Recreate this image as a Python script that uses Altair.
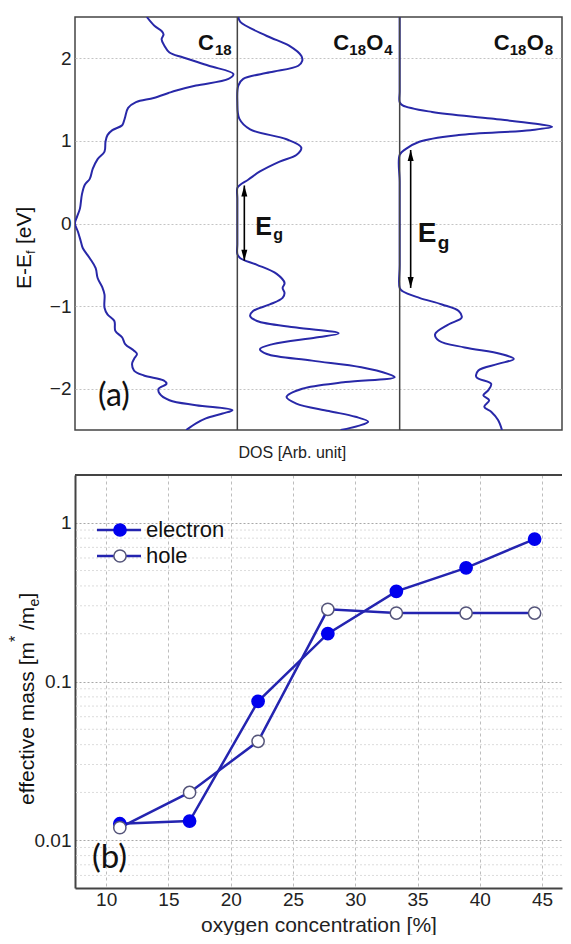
import altair as alt
import pandas as pd

FONT = "Liberation Sans"
TAG_FONT = "Lato"

# ---------------- panel (a): density of states ----------------
# E - E_f [eV] and DOS [arb. unit]
c18_E = [2.50, 2.39, 2.33, 2.29, 2.23, 2.15, 2.07, 2.01, 1.91, 1.81, 1.75, 1.67, 1.61, 1.58,
         1.52, 1.47, 1.40, 1.29, 1.25, 1.19, 1.13, 1.07, 0.99, 0.87, 0.78, 0.66, 0.54, 0.47,
         0.35, 0.18, 0.08, 0.00, -0.10, -0.22, -0.30, -0.42, -0.54, -0.66, -0.78, -0.86,
         -1.02, -1.10, -1.18, -1.30, -1.38, -1.46, -1.54, -1.58, -1.64, -1.70, -1.78, -1.84,
         -1.90, -1.94, -2.00, -2.06, -2.14, -2.20, -2.26, -2.30, -2.36, -2.42, -2.50]
c18_dos = [73, 81, 88, 90, 88, 91, 96, 110, 136, 161, 156, 123, 103, 95,
           80, 62, 54, 51, 50, 48, 38, 33, 31, 30, 23, 18, 15, 10,
           7, 5, 2, 0, 3, 6, 8, 15, 21, 23, 28, 30,
           30, 33, 40, 41, 48, 51, 60, 63, 60, 58, 60, 70,
           90, 93, 85, 86, 96, 123, 160, 150, 133, 123, 113]

c18o4_E = [2.50, 2.44, 2.27, 2.15, 2.03, 1.97, 1.91, 1.83, 1.75, 1.67, 1.47, 1.27, 1.14, 1.02,
           0.92, 0.83, 0.75, 0.63, 0.53, 0.47, 0.43, 0.30, 0.00, -0.25, -0.37, -0.42, -0.50,
           -0.61, -0.72, -0.78, -0.84, -0.90, -0.98, -1.06, -1.12, -1.18, -1.26, -1.33, -1.38,
           -1.46, -1.52, -1.58, -1.66, -1.74, -1.82, -1.86, -1.92, -2.00, -2.10, -2.18, -2.27,
           -2.34, -2.40, -2.45, -2.50]
c18o4_dos = [1, 3, 30, 53, 65, 66, 62, 33, 6, 1, 0, 2, 13, 50,
             65, 60, 43, 23, 11, 3, 0, 0, 0, 0, 0, 3, 20,
             40, 48, 46, 48, 46, 33, 16, 13, 20, 60, 103, 80,
             36, 23, 30, 76, 126, 153, 160, 110, 66, 50, 60, 93,
             120, 133, 123, 105]

c18o8_E = [2.50, 2.00, 1.60, 1.47, 1.43, 1.35, 1.27, 1.21, 1.17, 1.13, 1.07, 0.99, 0.90, 0.83,
           0.50, 0.00, -0.50, -0.78, -0.82, -0.90, -0.98, -1.06, -1.14, -1.22, -1.34, -1.42,
           -1.50, -1.58, -1.64, -1.70, -1.78, -1.86, -1.94, -2.02, -2.08, -2.14, -2.22, -2.28,
           -2.38, -2.50]
c18o8_dos = [0, 0, 0, 0, 3, 33, 93, 136, 155, 133, 60, 20, 6, 0,
             0, 0, 0, 0, 3, 20, 43, 60, 63, 50, 36, 40,
             66, 103, 116, 100, 80, 78, 93, 90, 85, 91, 86, 93,
             100, 104]

gap_o4 = [-0.45, 0.46]   # band edges of C18O4
gap_o8 = [-0.78, 0.89]   # band edges of C18O8
e_ticks = [-2, -1, 0, 1, 2]

# ---------------- panel (b): effective mass ----------------
conc = [11.1, 16.7, 22.2, 27.8, 33.3, 38.9, 44.4]
m_electron = [0.0127, 0.0132, 0.075, 0.20, 0.37, 0.52, 0.79]
m_hole = [0.0120, 0.020, 0.042, 0.285, 0.27, 0.27, 0.27]
series_names = ["electron", "hole"]
x_ticks = [10, 15, 20, 25, 30, 35, 40, 45]
y_major = [0.01, 0.1, 1]
y_minor = [0.006, 0.007, 0.008, 0.009,
           0.02, 0.03, 0.04, 0.05, 0.06, 0.07, 0.08, 0.09,
           0.2, 0.3, 0.4, 0.5, 0.6, 0.7, 0.8, 0.9]

# ---------------- styling / layout ----------------
DOS_RANGE = 165        # DOS range of one panel
N_PANELS = 3
TOP_W = 487
PW = TOP_W / N_PANELS  # pixel width of one panel
TOP_H = 413
B_W = 487
B_H = 413
DOS_BLUE = "#2828a8"
LINE_BLUE = "#2424b0"
FILL_BLUE = "#0000ee"
HOLE_EDGE = "#55557a"
FRAME = "#444444"


def txt(s, x, y, size, weight="normal", angle=0, align="left",
        baseline="alphabetic", font=FONT, color="#111111"):
    return alt.Chart(alt.Data(values=[{"t": s}])).mark_text(
        fontSize=size, fontWeight=weight, angle=angle, align=align,
        baseline=baseline, font=font, color=color
    ).encode(x=alt.value(x), y=alt.value(y), text="t:N")


e_axis = alt.Axis(values=e_ticks, ticks=False, domain=False,
                  grid=True, gridDash=[2, 2], gridColor="#c4c4c4", gridWidth=1,
                  labelFontSize=19, labelFont=FONT, labelColor="#222222",
                  labelPadding=4, title=None)
e_scale = alt.Scale(domain=[-2.5, 2.5], nice=False, zero=False)


def E_enc(field):
    return alt.Y(f"{field}:Q", scale=e_scale, axis=e_axis)


frames = []
for k, (E, dos) in enumerate([(c18_E, c18_dos), (c18o4_E, c18o4_dos), (c18o8_E, c18o8_dos)]):
    frames.append(pd.DataFrame({"E": E, "DOS": dos, "panel": k, "idx": list(range(len(E)))}))
df_dos = pd.concat(frames, ignore_index=True)

curves = alt.Chart(df_dos).transform_calculate(
    xpos=f"datum.DOS + datum.panel * {DOS_RANGE}"
).mark_line(
    color=DOS_BLUE, strokeWidth=2, interpolate="catmull-rom", clip=True
).encode(
    x=alt.X("xpos:Q", scale=alt.Scale(domain=[0, DOS_RANGE * N_PANELS], nice=False, zero=False),
            axis=None),
    y=E_enc("E"),
    detail="panel:N",
    order=alt.Order("idx:Q"),
)

dividers = [
    alt.Chart(alt.Data(values=[{}])).mark_rule(color=FRAME, strokeWidth=1.5).encode(
        x=alt.value(PW * k), y=alt.value(0), y2=alt.value(TOP_H))
    for k in range(1, N_PANELS)
]


def gap_arrow(gap, xpix):
    df = pd.DataFrame({"lo": [gap[0]], "hi": [gap[1]]})
    base = alt.Chart(df)
    rule = base.mark_rule(color="black", strokeWidth=1.6).encode(
        x=alt.value(xpix), y=E_enc("lo"), y2="hi:Q")
    up = base.mark_point(shape="M0,0L-0.55,2L0.55,2Z", filled=True, color="black",
                         opacity=1, size=120).encode(x=alt.value(xpix), y=E_enc("hi"))
    down = base.mark_point(shape="M0,0L-0.55,-2L0.55,-2Z", filled=True, color="black",
                           opacity=1, size=120).encode(x=alt.value(xpix), y=E_enc("lo"))
    return [rule, up, down]


P2 = PW
P3 = PW * 2
top = alt.layer(
    curves, *dividers,
    *gap_arrow(gap_o4, P2 + 7),
    *gap_arrow(gap_o8, P3 + 11),
    # panel titles
    txt("C", 123, 33, 22, "bold"), txt("18", 140, 38, 15, "bold"),
    txt("C", P2 + 96, 33, 22, "bold"), txt("18", P2 + 112, 38, 15, "bold"),
    txt("O", P2 + 129, 33, 22, "bold"), txt("4", P2 + 147, 38, 15, "bold"),
    txt("C", P3 + 94, 33, 22, "bold"), txt("18", P3 + 110, 38, 15, "bold"),
    txt("O", P3 + 127, 33, 22, "bold"), txt("8", P3 + 145, 38, 15, "bold"),
    # band-gap labels
    txt("E", P2 + 18, 218, 25, "bold"), txt("g", P2 + 36, 223, 16, "bold"),
    txt("E", P3 + 18, 225, 28, "bold"), txt("g", P3 + 38, 232, 19, "bold"),
    txt("(a)", 23, 389, 32, font=TAG_FONT),
    txt("DOS [Arb. unit]", P2 + 55, 436, 16, align="center", baseline="middle", color="#222222"),
    # y-axis title  E-E_f [eV]
    txt("E-E", -44, 272, 21, angle=270),
    txt("f", -40, 237, 13, angle=270),
    txt("[eV]", -44, 227, 21, angle=270),
).properties(width=TOP_W, height=TOP_H,
             view=alt.ViewBackground(stroke=FRAME, strokeWidth=1.5))

# ---------------- bottom chart ----------------
x_axis = alt.Axis(values=x_ticks, grid=True, gridDash=[3, 3], gridColor="#bdbdbd",
                  ticks=False, domain=True, domainColor=FRAME, domainWidth=2,
                  labelFontSize=19, labelFont=FONT, labelColor="#222222", labelPadding=2,
                  title="oxygen concentration [%]", titleFontSize=21, titleFont=FONT,
                  titleFontWeight="normal", titleColor="#222222", titlePadding=5)
y_axis = alt.Axis(values=y_major, format="~g", grid=True, gridDash=[2, 2], gridColor="#a8a8a8",
                  ticks=False, domain=True, domainColor=FRAME, domainWidth=2,
                  labelFontSize=19, labelFont=FONT, labelColor="#222222", labelPadding=4,
                  title=None)
x_scale = alt.Scale(domain=[7.5, 46.6], nice=False, zero=False)
y_scale = alt.Scale(type="log", domain=[0.005, 2], nice=False)


def X(field):
    return alt.X(f"{field}:Q", scale=x_scale, axis=x_axis)


def Y(field):
    return alt.Y(f"{field}:Q", scale=y_scale, axis=y_axis)


df_b = pd.DataFrame({
    "conc": conc + conc,
    "mass": m_electron + m_hole,
    "series": [series_names[0]] * len(conc) + [series_names[1]] * len(conc),
})

minor = alt.Chart(pd.DataFrame({"v": y_minor})).mark_rule(
    color="#dcdcdc", strokeDash=[2, 2], strokeWidth=1).encode(y=Y("v"))

lines = alt.Chart(df_b).mark_line(color=LINE_BLUE, strokeWidth=2.5).encode(
    x=X("conc"), y=Y("mass"), detail="series:N")

fill_scale = alt.Scale(domain=series_names, range=[FILL_BLUE, "white"])
stroke_scale = alt.Scale(domain=series_names, range=[FILL_BLUE, HOLE_EDGE])

points = alt.Chart(df_b).mark_circle(size=150, opacity=1, strokeWidth=1.5).encode(
    x=X("conc"), y=Y("mass"),
    fill=alt.Fill("series:N", scale=fill_scale, legend=None),
    stroke=alt.Stroke("series:N", scale=stroke_scale, legend=None),
)

top_border = alt.Chart(alt.Data(values=[{}])).mark_rule(color=FRAME, strokeWidth=2).encode(
    x=alt.value(0), x2=alt.value(B_W), y=alt.value(0))


def legend_row(name, ypix):
    d = alt.Chart(alt.Data(values=[{"series": name}]))
    r = d.mark_rule(color=LINE_BLUE, strokeWidth=2.5).encode(
        x=alt.value(22), x2=alt.value(66), y=alt.value(ypix))
    c = d.mark_circle(size=150, opacity=1, strokeWidth=1.5).encode(
        x=alt.value(45), y=alt.value(ypix),
        fill=alt.Fill("series:N", scale=fill_scale, legend=None),
        stroke=alt.Stroke("series:N", scale=stroke_scale, legend=None))
    t = d.mark_text(fontSize=22, font=FONT, align="left", baseline="middle",
                    color="#111111").encode(x=alt.value(71), y=alt.value(ypix), text="series:N")
    return [r, c, t]


bottom = alt.layer(
    minor, lines, points, top_border,
    *legend_row(series_names[0], 55),
    *legend_row(series_names[1], 81),
    txt("(b)", 17, 393, 33, font=TAG_FONT),
    # y-axis title  effective mass [m* /m_e]
    txt("effective mass [m", -41, 330, 21, angle=270),
    txt("*", -54, 167, 16, angle=270),
    txt("/m", -41, 155, 21, angle=270),
    txt("e", -36, 131.5, 14, angle=270),
    txt("]", -41, 123.5, 21, angle=270),
).properties(width=B_W, height=B_H, view=alt.ViewBackground(stroke=None))

chart = alt.vconcat(top, bottom, spacing=45, bounds="flush").properties(
    padding={"left": 0, "top": 7, "right": 0, "bottom": 0},
    background="white",
)

chart.save("out.html", embed_options={"renderer": "svg", "actions": False})
